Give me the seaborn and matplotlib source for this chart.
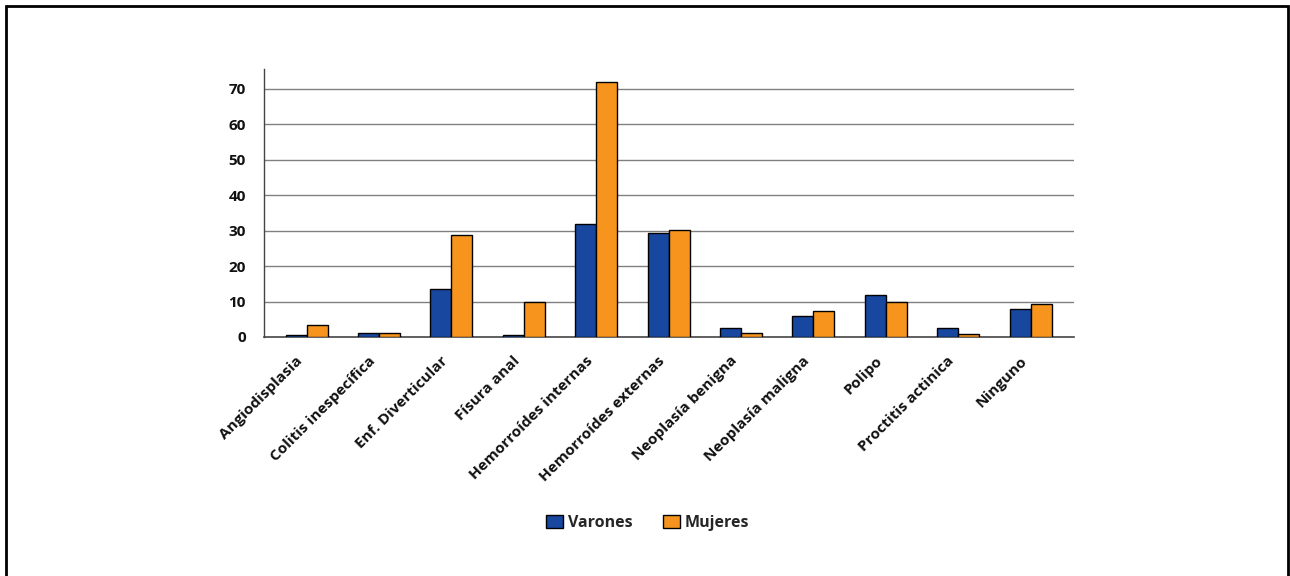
import matplotlib
matplotlib.use("Agg")
import matplotlib.pyplot as plt
import matplotlib.transforms as mtransforms
import seaborn as sns
import pandas as pd
from matplotlib.patches import Rectangle

categories = ["Angiodisplasia", "Colitis inespecífica", "Enf. Diverticular", "Físura anal",
              "Hemorroídes internas", "Hemorroídes externas", "Neoplasía benigna",
              "Neoplasía maligna", "Polipo", "Proctitis actinica", "Ninguno"]
varones = [0.6, 1.2, 13.5, 0.6, 31.9, 29.2, 2.5, 5.9, 11.8, 2.5, 8.0]
mujeres = [3.5, 1.2, 28.8, 9.9, 71.7, 30.1, 1.2, 7.4, 9.9, 0.9, 9.2]
series = ["Varones", "Mujeres"]
yticks = [0, 10, 20, 30, 40, 50, 60, 70]

df = pd.DataFrame({
    "cat": categories * 2,
    "val": varones + mujeres,
    "sex": [series[0]] * len(categories) + [series[1]] * len(categories),
})

sns.set_theme(style="white")
plt.rcParams['font.family'] = ['Open Sans', 'DejaVu Sans']

fig = plt.figure(figsize=(12.9, 5.76), dpi=100)
ax = fig.add_axes([264/1290, 1-337/576, (1074-264)/1290, (337-69)/576])

sns.barplot(data=df, x="cat", y="val", hue="sex", palette=["#17479E", "#F7941D"],
            width=0.58, edgecolor="black", linewidth=1, ax=ax, zorder=3, saturation=1)

ax.set_xlim(-0.59, 10.6)
ax.set_ylim(0, 75.5)
ax.set_yticks(yticks)
ax.set_yticklabels([str(t) for t in yticks], fontsize=11, fontweight="bold", color="#111111")
ax.tick_params(axis="y", length=0, pad=13)
ax.tick_params(axis="x", length=0, pad=4)
ax.set_xticks(range(len(categories)))
ax.set_xticklabels(categories, rotation=45, ha="right", rotation_mode="anchor",
                   fontsize=11, fontweight="bold", color="#111111")
offset = mtransforms.ScaledTranslation(-11/100, -11/100, fig.dpi_scale_trans)
for lbl in ax.get_xticklabels():
    lbl.set_transform(lbl.get_transform() + offset)
ax.set_xlabel("")
ax.set_ylabel("")
for t in yticks[1:]:
    ax.axhline(t, color="#808080", linewidth=1, zorder=1)
for s in ["top", "right"]:
    ax.spines[s].set_visible(False)
ax.spines["left"].set_color("#444444")
ax.spines["bottom"].set_color("#444444")
ax.spines["left"].set_linewidth(1)
ax.spines["bottom"].set_linewidth(1.2)

handles, labels = ax.get_legend_handles_labels()
ax.get_legend().remove()
fig.legend(handles, labels, loc="center", bbox_to_anchor=(0.502, 1-523/576), ncol=2,
           frameon=False, handlelength=1.06, handleheight=0.8, columnspacing=1.9,
           handletextpad=0.3, prop={"weight": "bold", "size": 11.5})

fig.patches.append(Rectangle((6/1290, -0.02), (1288-6)/1290, 1-6/576+0.02,
                             transform=fig.transFigure, fill=False, edgecolor="black",
                             linewidth=2))

fig.savefig("out.png", dpi=100)
